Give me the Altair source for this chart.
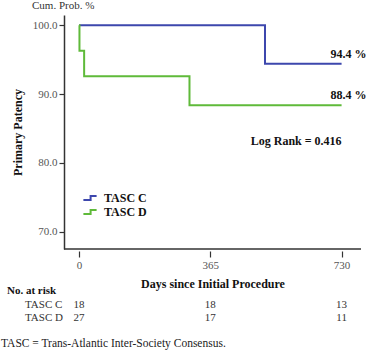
import altair as alt
import pandas as pd

# Kaplan-Meier step data (days, cumulative probability %)
groups = ["TASC C", "TASC D"]
c_days = [0, 517, 730]
c_surv = [100.0, 94.4, 94.4]
d_days = [0, 1, 14, 307, 730]
d_surv = [100.0, 96.3, 92.6, 88.4, 88.4]
colors = ["#3d47ad", "#5fba3a"]

end_labels = ["94.4 %", "88.4 %"]
end_values = [94.4, 88.4]

x_ticks = [0, 365, 730]
y_ticks = [70, 80, 90, 100]

risk_c = [18, 18, 13]
risk_d = [27, 17, 11]

W, H = 297, 234
FONT = "Liberation Serif"

km = pd.DataFrame({
    "day": c_days + d_days,
    "surv": c_surv + d_surv,
    "group": [groups[0]] * len(c_days) + [groups[1]] * len(d_days),
})

xs = alt.Scale(domain=[-42, 784], nice=False, zero=False)
ys = alt.Scale(domain=[67.5, 101.5], nice=False, zero=False)

lines = alt.Chart(km).mark_line(interpolate="step-after", strokeWidth=2).encode(
    x=alt.X("day:Q", scale=xs, axis=alt.Axis(
        values=x_ticks, title="Days since Initial Procedure", domain=False,
        offset=2, tickSize=6, labelPadding=2, titlePadding=8, grid=False)),
    y=alt.Y("surv:Q", scale=ys, axis=alt.Axis(
        values=y_ticks, format=".1f", title="Primary Patency", tickSize=5,
        labelPadding=2, titlePadding=8, grid=False)),
    color=alt.Color("group:N", scale=alt.Scale(domain=groups, range=colors),
                    legend=alt.Legend(
                        orient="none", legendX=19, legendY=176, title=None,
                        symbolType="M-1.1,0.35H0.1V-0.35H1.1", symbolSize=144,
                        symbolStrokeWidth=2, symbolFillColor="transparent",
                        labelFont=FONT, labelFontWeight="bold", labelFontSize=12,
                        labelColor="#111", labelOffset=7, rowPadding=0)),
)

xaxis_line = alt.Chart().mark_rule(color="#333", strokeWidth=1.5).encode(
    x=alt.value(0), x2=alt.value(W), y=alt.value(H))

ends = pd.DataFrame({"day": [730, 730], "surv": end_values, "lab": end_labels})
end_text = alt.Chart(ends).mark_text(
    align="left", baseline="middle", dx=-11, dy=-10, font=FONT,
    fontWeight="bold", fontSize=12, color="#111").encode(
    x=alt.X("day:Q", scale=xs), y=alt.Y("surv:Q", scale=ys), text="lab:N")

logrank = alt.Chart(pd.DataFrame({"day": [730], "t": ["Log Rank = 0.416"]})).mark_text(
    align="right", baseline="middle", font=FONT, fontWeight="bold", fontSize=12,
    color="#111").encode(x=alt.X("day:Q", scale=xs), y=alt.value(126), text="t:N")

cum = alt.Chart(pd.DataFrame({"t": ["Cum. Prob. %"]})).mark_text(
    align="left", baseline="middle", font=FONT, fontSize=11, color="#333").encode(
    x=alt.value(-32), y=alt.value(-9), text="t:N")

risk_head = alt.Chart(pd.DataFrame({"t": ["No. at risk"]})).mark_text(
    align="left", baseline="middle", font=FONT, fontSize=11, fontWeight="bold",
    color="#111").encode(x=alt.value(-57), y=alt.value(276), text="t:N")

row_labels = alt.Chart(pd.DataFrame({"t": groups, "yy": [289.5, 302.5]})).mark_text(
    align="left", baseline="middle", font=FONT, fontSize=11, color="#333").encode(
    x=alt.value(-39), y=alt.Y("yy:Q", scale=None), text="t:N")

risk_layers = []
for counts, yy in [(risk_c, 289.5), (risk_d, 302.5)]:
    df = pd.DataFrame({"day": x_ticks, "n": counts})
    risk_layers.append(alt.Chart(df).mark_text(
        align="center", baseline="middle", font=FONT, fontSize=11,
        color="#333").encode(x=alt.X("day:Q", scale=xs), y=alt.value(yy), text="n:Q"))

foot = alt.Chart(pd.DataFrame({"t": ["TASC = Trans-Atlantic Inter-Society Consensus."]})).mark_text(
    align="left", baseline="middle", font=FONT, fontSize=11.5, color="#222").encode(
    x=alt.value(-63), y=alt.value(329), text="t:N")

chart = alt.layer(
    lines, xaxis_line, end_text, logrank, cum, risk_head, row_labels, *risk_layers, foot
).properties(
    width=W, height=H, background="white",
    autosize=alt.AutoSizeParams(type="none"),
    padding={"left": 64, "top": 15, "right": 5, "bottom": 103},
).configure_view(stroke=None).configure_axis(
    labelFont=FONT, labelFontSize=11, labelColor="#555",
    titleFont=FONT, titleFontSize=12, titleFontWeight="bold", titleColor="#111",
    domainColor="#333", domainWidth=1.5, tickColor="#333", tickWidth=1.2,
)

chart.save("out.html", embed_options={"renderer": "svg", "actions": False})
